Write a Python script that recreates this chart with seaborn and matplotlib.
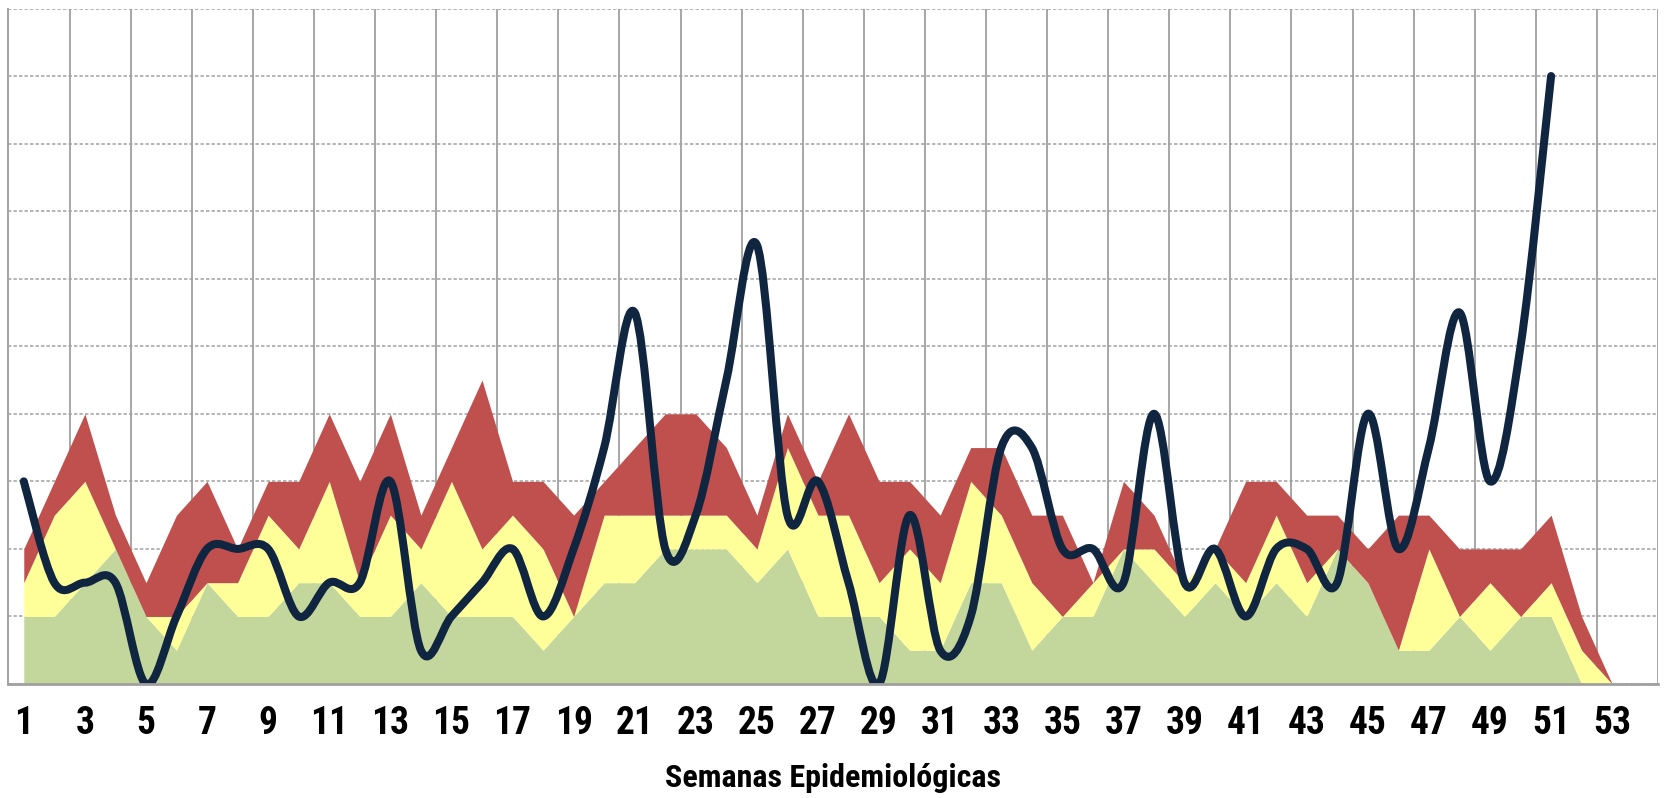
import numpy as np
import pandas as pd
import matplotlib
matplotlib.use('Agg')
import matplotlib.pyplot as plt
import seaborn as sns
from matplotlib import font_manager
from matplotlib.path import Path
from matplotlib.patches import PathPatch
from matplotlib.ticker import FixedLocator

# semanas epidemiológicas
semanas = list(range(1, 54))

# canal endémico (límites superiores de cada zona)
exito = [2, 2, 3, 4, 2, 1, 3, 2, 2, 3,
         3, 2, 2, 3, 2, 2, 2, 1, 2, 3,
         3, 4, 4, 4, 3, 4, 2, 2, 2, 1,
         1, 3, 3, 1, 2, 2, 4, 3, 2, 3,
         2, 3, 2, 4, 3, 1, 1, 2, 1, 2,
         2, 0, 0]
seguridad = [3, 5, 6, 4, 2, 2, 3, 3, 5, 4,
             6, 3, 5, 4, 6, 4, 5, 4, 2, 5,
             5, 5, 5, 5, 4, 7, 5, 5, 3, 4,
             3, 6, 5, 3, 2, 3, 4, 4, 3, 4,
             3, 5, 3, 4, 3, 1, 4, 2, 3, 2,
             3, 1, 0]
alarma = [4, 6, 8, 5, 3, 5, 6, 4, 6, 6,
          8, 6, 8, 5, 7, 9, 6, 6, 5, 6,
          7, 8, 8, 7, 5, 8, 6, 8, 6, 6,
          5, 7, 7, 5, 5, 3, 6, 5, 3, 4,
          6, 6, 5, 5, 4, 5, 5, 4, 4, 4,
          5, 2, 0]

# casos observados (hasta la semana 51)
casos = [6, 3, 3, 3, 0, 2, 4, 4, 4, 2,
         3, 3, 6, 1, 2, 3, 4, 2, 4, 7,
         11, 4, 5, 9, 13, 5, 6, 3, 0, 5,
         1, 2, 7, 7, 4, 4, 3, 8, 3, 4,
         2, 4, 4, 3, 8, 4, 7, 11, 6, 10,
         18, np.nan, np.nan]

df = pd.DataFrame({'semana': semanas, 'exito': exito, 'seguridad': seguridad,
                   'alarma': alarma, 'casos': casos})

sns.set_style('white')

names = {f.name for f in font_manager.fontManager.ttflist}
narrow = None
for n in ['Liberation Sans Narrow', 'Roboto Condensed', 'Open Sans Condensed']:
    if n in names:
        narrow = n
        break
if narrow:
    tick_font = dict(family=[narrow, 'DejaVu Sans'])
else:
    tick_font = dict(family=['DejaVu Sans'], stretch='condensed')
plt.rcParams['font.family'] = ['DejaVu Sans']

fig = plt.figure(figsize=(16.65, 7.98), dpi=100)
ax = fig.add_axes([8.5 / 1665, 1 - 684 / 798, (1658 - 8.5) / 1665, (684 - 8.5) / 798])

verde = '#C3D69B'
amarillo = '#FFFF99'
rojo = '#C0504D'
azul = '#10253F'

ax.fill_between(df['semana'], 0, df['exito'], color=verde, lw=0, zorder=2)
ax.fill_between(df['semana'], df['exito'], df['seguridad'], color=amarillo, lw=0, zorder=2)
ax.fill_between(df['semana'], df['seguridad'], df['alarma'], color=rojo, lw=0, zorder=2)

# línea suavizada (estilo Excel, Catmull-Rom -> Bezier)
obs = df.dropna(subset=['casos'])
x = obs['semana'].to_numpy(float)
y = obs['casos'].to_numpy(float)
xp = np.r_[x[0], x, x[-1]]
yp = np.r_[y[0], y, y[-1]]
verts = [(x[0], y[0])]
codes = [Path.MOVETO]
for i in range(len(x) - 1):
    c1 = (xp[i + 1] + (xp[i + 2] - xp[i]) / 6, yp[i + 1] + (yp[i + 2] - yp[i]) / 6)
    c2 = (xp[i + 2] - (xp[i + 3] - xp[i + 1]) / 6, yp[i + 2] - (yp[i + 3] - yp[i + 1]) / 6)
    verts += [c1, c2, (xp[i + 2], yp[i + 2])]
    codes += [Path.CURVE4] * 3
ax.add_patch(PathPatch(Path(verts, codes), fill=False, edgecolor=azul, lw=5.8,
                       capstyle='round', joinstyle='round', zorder=4))

ax.set_xlim(0.5, 54.5)
ax.set_ylim(0, 20)

ax.xaxis.set_major_locator(FixedLocator(np.arange(0.5, 55, 2)))
ax.xaxis.set_minor_locator(FixedLocator(np.arange(1, 54, 2)))
ax.set_xticklabels([], minor=False)
ax.set_xticklabels([str(s) for s in range(1, 54, 2)], minor=True, fontsize=27,
                   fontweight='bold', color='black', **tick_font)
ax.tick_params(axis='x', which='major', length=11, width=1.8, color='#A0A0A0', direction='out')
ax.tick_params(axis='x', which='minor', length=0, pad=15)
ax.set_yticks(np.arange(0, 21, 2))
ax.tick_params(axis='y', length=0, labelleft=False)

ax.set_axisbelow(True)
ax.grid(axis='x', which='major', color='#A6A6A6', lw=1.4, ls='-')
ax.grid(axis='y', color='#A0A0A0', lw=1.1, ls=(0, (2.2, 1.4)))

for s in ['top', 'right']:
    ax.spines[s].set_visible(False)
ax.spines['left'].set_color('#A6A6A6')
ax.spines['left'].set_linewidth(1.5)
ax.spines['bottom'].set_color('#A0A0A0')
ax.spines['bottom'].set_linewidth(2)
ax.spines['bottom'].set_zorder(5)

xfont = dict(family=[narrow, 'DejaVu Sans']) if narrow else dict(family=['DejaVu Sans'])
ax.set_xlabel('Semanas Epidemiológicas', fontsize=23 if narrow else 18,
              fontweight='bold', color='black', labelpad=15, **xfont)

fig.savefig('out.png', dpi=100)
